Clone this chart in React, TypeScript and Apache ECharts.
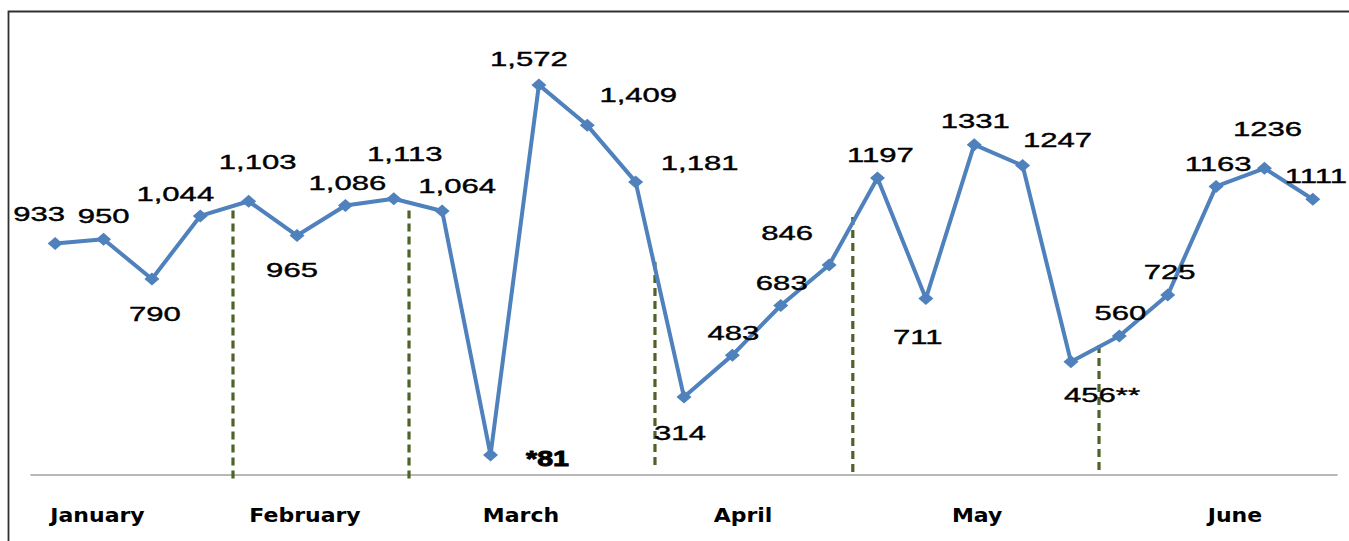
import React, { useEffect, useRef } from "react";
import * as echarts from "echarts";

const categories = [
  "P1", "P2", "P3", "P4", "P5", "P6", "P7", "P8", "P9", "P10", "P11", "P12", "P13", "P14",
  "P15", "P16", "P17", "P18", "P19", "P20", "P21", "P22", "P23", "P24", "P25", "P26", "P27",
];
const values = [
  933, 950, 790, 1044, 1103, 965, 1086, 1113, 1064, 81, 1572, 1409, 1181, 314, 483, 683, 846,
  1197, 711, 1331, 1247, 456, 560, 725, 1163, 1236, 1111,
];
const labelTexts = [
  "933", "950", "790", "1,044", "1,103", "965", "1,086", "1,113", "1,064", "*81", "1,572",
  "1,409", "1,181", "314", "483", "683", "846", "1197", "711", "1331", "1247", "456**", "560",
  "725", "1163", "1236", "1111",
];
const months = ["January", "February", "March", "April", "May", "June"];

// layout (index units on the x axis)
const monthPositions = [0.875, 5.165, 9.63, 14.22, 19.06, 24.39];
const dividerPositions = [3.676, 7.315, 12.4, 16.49, 21.58];
const dividerTops = [1080, 1076, 868, 1040, 532];
const dividerBottoms = [-14, -14, 40, 12, 20];
// label offsets in pixels from each point
const labelOffsets: [number, number][] = [
  [-16, -30], [0, -23], [3, 35], [-25, -22], [9, -39], [-5, 34], [2, -23], [11, -45], [15, -25],
  [57, 3], [-10, -26], [51, -30], [64, -19], [-4, 36], [1, -22], [1, -23], [-42, -32], [3, -23],
  [-8, 38], [1, -24], [35, -26], [31, 33], [1, -23], [2, -23], [2, -23], [3, -39], [3, -23],
];

export default function App() {
  const ref = useRef<HTMLDivElement>(null);
  useEffect(() => {
    if (!ref.current) return;
    const chart = echarts.init(ref.current, undefined, { renderer: "svg" });
    const yMax = 1800;
    const option: any = {
      animation: false,
      grid: { left: 31, right: 12, top: 28.3, bottom: 66 },
      xAxis: [
        {
          type: "category",
          data: categories,
          boundaryGap: true,
          axisLine: { show: true, lineStyle: { color: "#a0a0a0", width: 1.5 } },
          axisTick: { show: false },
          axisLabel: { show: false },
          splitLine: { show: false },
        },
        {
          type: "value",
          min: -0.5,
          max: categories.length - 0.5,
          show: false,
          splitLine: { show: false },
        },
      ],
      yAxis: {
        type: "value",
        min: 0,
        max: yMax,
        show: false,
        splitLine: { show: false },
      },
      series: [
        ...dividerPositions.map((p, i) => ({
          type: "line",
          xAxisIndex: 1,
          yAxisIndex: 0,
          clip: false,
          symbol: "none",
          z: 1,
          silent: true,
          data: [
            [p, dividerBottoms[i]],
            [p, dividerTops[i]],
          ],
          lineStyle: { color: "#4f6228", width: 3.2, type: [8, 5] },
        })),
        {
          type: "line",
          xAxisIndex: 0,
          yAxisIndex: 0,
          data: values,
          z: 3,
          symbol: "diamond",
          symbolSize: [15, 13],
          itemStyle: { color: "#4f81bd" },
          lineStyle: { color: "#4f81bd", width: 4 },
        },
      ],
    };
    chart.setOption(option);

    const mainIdx = dividerPositions.length;
    const graphics: any[] = [];
    graphics.push({
      type: "polyline",
      shape: { points: [[8.5, 541], [8.5, 11.5], [1349, 11.5]] },
      style: { stroke: "#303030", lineWidth: 1.8, fill: null },
      silent: true,
    });
    values.forEach((v, i) => {
      const pt = chart.convertToPixel({ seriesIndex: mainIdx }, [i, v]) as number[];
      const off = labelOffsets[i];
      const bold = labelTexts[i] === "*81";
      const style: any = {
        text: labelTexts[i],
        fontFamily: "Liberation Sans, Arial, sans-serif",
        fontSize: bold ? 22 : 21,
        fontWeight: bold ? "bold" : "normal",
        fill: "#000",
        stroke: "#000",
        lineWidth: bold ? 0.9 : 0.4,
        align: "center",
        verticalAlign: "middle",
      };
      graphics.push({
        type: "text",
        x: pt[0] + off[0],
        y: pt[1] + off[1],
        scaleX: bold ? 1.3 : 1.48,
        z: 10,
        style,
      });
    });
    const axisY = chart.convertToPixel({ yAxisIndex: 0 }, 0) as number;
    months.forEach((m, i) => {
      const x = chart.convertToPixel({ xAxisIndex: 1 }, monthPositions[i]) as number;
      graphics.push({
        type: "text",
        x,
        y: axisY + 40,
        scaleX: 1.1,
        z: 10,
        style: {
          text: m,
          fontFamily: "DejaVu Sans, sans-serif",
          fontSize: 20,
          fontWeight: "bold",
          fill: "#000",
          align: "center",
          verticalAlign: "middle",
        },
      });
    });
    chart.setOption({ graphic: graphics });
    return () => chart.dispose();
  }, []);
  return (
    <div
      ref={ref}
      style={{ position: "absolute", left: 0, top: 0, width: 1349, height: 541, background: "#fff" }}
    />
  );
}
